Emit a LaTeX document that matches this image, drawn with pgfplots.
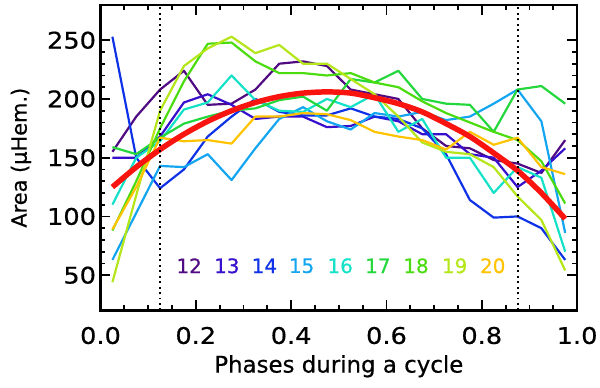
\documentclass[border=0pt]{standalone}
\usepackage{fontspec}
\setmainfont{DejaVu Sans}[FakeBold=0.6]
\setsansfont{DejaVu Sans}
\newfontfamily\tickfont{DejaVu Sans}[FakeStretch=1.12, FakeBold=0.6]
\usepackage{pgfplots}
\usepackage{pgfplotstable}
\pgfplotsset{compat=1.18}

% cycle colours, purple to orange
\definecolor{c12}{RGB}{80,10,130}
\definecolor{c13}{RGB}{55,15,205}
\definecolor{c14}{RGB}{15,50,230}
\definecolor{c15}{RGB}{20,165,240}
\definecolor{c16}{RGB}{20,225,200}
\definecolor{c17}{RGB}{35,215,60}
\definecolor{c18}{RGB}{75,220,15}
\definecolor{c19}{RGB}{180,230,25}
\definecolor{c20}{RGB}{255,195,0}
\definecolor{fitred}{RGB}{250,20,15}

\pgfplotstableread{
x     s12  s13  s14  s15  s16  s17  s18  s19  s20  fit
0.025 155  150  253  63   110  159  88   44   89   125
0.075 185  150  150  103  150  153  130  118  125  142
0.125 208  168  124  143  164  167  175  190  167  157
0.175 224  197  140  142  191  179  215  228  164  170
0.225 195  204  168  153  197  185  247  243  165  181
0.275 196  195  185  131  220  190  248  253  162  190
0.325 208  183  200  158  199  192  232  239  185  197
0.375 230  185  189  183  190  199  222  246  185  202
0.425 232  185  186  193  189  202  222  230  188  205
0.475 228  176  186  181  200  190  220  230  187  206
0.525 208  177  192  174  193  217  222  217  182  205
0.575 204  185  185  188  204  214  214  204  172  201
0.625 200  181  183  185  172  224  210  185  168  196
0.675 175  170  175  189  183  200  198  163  165  189
0.725 160  170  153  182  150  196  188  155  157  179
0.775 158  153  114  185  150  195  180  153  172  168
0.825 148  150  99   196  120  172  172  142  161  154
0.875 145  125  100  208  142  208  165  117  167  139
0.925 137  139  90   181  133  211  147  97   142  120
0.975 165  158  63   86   70   196  111  54   136  98
}\cycles

\begin{document}
\begin{tikzpicture}
\begin{axis}[
    scale only axis,
    width=479pt, height=307pt,
    xmin=0, xmax=1, ymin=20, ymax=280,
    xtick={0,0.2,0.4,0.6,0.8,1.0},
    ytick={50,100,150,200,250},
    minor x tick num=3,
    minor y tick num=4,
    tick align=inside,
    major tick length=10pt,
    minor tick length=5pt,
    every tick/.style={black, line width=1.8pt},
    axis line style={line width=2.5pt},
    /pgf/number format/assume math mode=true,
    tick label style={font=\tickfont\fontsize{23}{27}\selectfont},
    xticklabel style={/pgf/number format/fixed, /pgf/number format/fixed zerofill, /pgf/number format/precision=1, yshift=-13pt},
    yticklabel style={xshift=-1pt},
    xlabel={Phases during a cycle},
    ylabel={Area (μHem.)},
    every axis x label/.style={at={(axis description cs:0.5,-0.135)}, anchor=north,
        font=\fontsize{23}{27}\selectfont},
    every axis y label/.style={at={(axis description cs:-0.167,0.5)}, anchor=center, rotate=90,
        font=\fontsize{21}{25}\selectfont},
    every axis plot/.append style={line width=2.2pt, line join=round},
    clip=true,
]
\addplot[c12] table[x=x, y=s12] {\cycles};
\addplot[c13] table[x=x, y=s13] {\cycles};
\addplot[c14] table[x=x, y=s14] {\cycles};
\addplot[c15] table[x=x, y=s15] {\cycles};
\addplot[c16] table[x=x, y=s16] {\cycles};
\addplot[c17] table[x=x, y=s17] {\cycles};
\addplot[c18] table[x=x, y=s18] {\cycles};
\addplot[c19] table[x=x, y=s19] {\cycles};
\addplot[c20] table[x=x, y=s20] {\cycles};
\addplot[fitred, line width=5.5pt, smooth] table[x=x, y=fit] {\cycles};

\addplot[black, line width=2pt, dash pattern=on 2pt off 3.5pt] coordinates {(0.125,20) (0.125,280)};
\addplot[black, line width=2pt, dash pattern=on 2pt off 3.5pt] coordinates {(0.875,20) (0.875,280)};

\begin{scope}[font=\fontsize{20}{24}\selectfont]
\node[c12] at (axis cs:0.186,58) {12};
\node[c13] at (axis cs:0.265,58) {13};
\node[c14] at (axis cs:0.344,58) {14};
\node[c15] at (axis cs:0.422,58) {15};
\node[c16] at (axis cs:0.503,58) {16};
\node[c17] at (axis cs:0.582,58) {17};
\node[c18] at (axis cs:0.662,58) {18};
\node[c19] at (axis cs:0.743,58) {19};
\node[c20] at (axis cs:0.823,58) {20};
\end{scope}
\end{axis}
\pgfresetboundingbox
\path ([xshift=-101pt,yshift=5pt]current axis.north west)
      rectangle ([xshift=23pt,yshift=-77pt]current axis.south east);
\end{tikzpicture}
\end{document}
